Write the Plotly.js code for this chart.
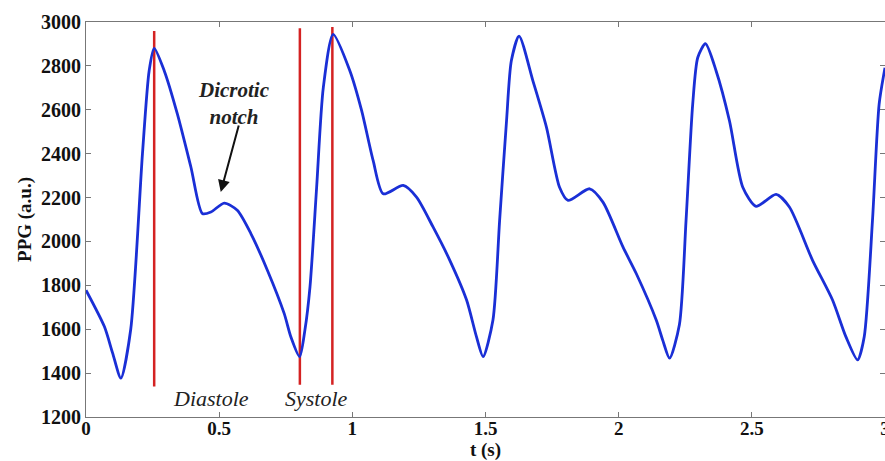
<!DOCTYPE html>
<html>
<head>
<meta charset="utf-8">
<script src="https://cdn.plot.ly/plotly-3.0.1.min.js"></script>
<style>html,body{margin:0;padding:0;background:#fff;}#chart{width:885px;height:461px;}</style>
</head>
<body>
<div id="chart"></div>
<script>
// PPG signal samples
const timeS = [0, 0.069, 0.100, 0.131, 0.168, 0.212, 0.237, 0.256, 0.294, 0.343, 0.394, 0.437, 0.469, 0.519, 0.568, 0.619, 0.681, 0.744, 0.769, 0.802,
  0.822, 0.841, 0.866, 0.891, 0.928, 0.991, 1.035, 1.078, 1.116, 1.191, 1.241, 1.303, 1.366, 1.429, 1.466, 1.491,
  1.528, 1.553, 1.579, 1.597, 1.626, 1.678, 1.729, 1.778, 1.810, 1.891, 1.941, 2.016, 2.066, 2.141, 2.166, 2.191,
  2.228, 2.253, 2.278, 2.297, 2.326, 2.366, 2.416, 2.466, 2.516, 2.591, 2.641, 2.728, 2.803, 2.853, 2.897,
  2.922, 2.953, 2.978, 3.0];
const ppg = [1778, 1612, 1491, 1377, 1600, 2400, 2777, 2880, 2777, 2581, 2338, 2127, 2134, 2175, 2142, 2036, 1869, 1672, 1566, 1475,
  1597, 1793, 2247, 2701, 2944, 2777, 2596, 2369, 2217, 2255, 2202, 2066, 1914, 1733, 1566, 1475,
  1642, 2096, 2550, 2823, 2936, 2732, 2520, 2247, 2187, 2240, 2179, 1975, 1854, 1642, 1548, 1468,
  1620, 2096, 2626, 2838, 2901, 2777, 2550, 2247, 2160, 2214, 2157, 1914, 1733, 1566, 1460,
  1566, 2096, 2626, 2792];

// Red marker lines
const markerT = [0.256, 0.803, 0.925];
const markerBottom = [1339, 1347, 1347];
const markerTop = [2959, 2971, 2977];

// Text labels
const labelText = ["Diastole", "Systole"];
const labelT = [0.470, 0.865];
const labelV = [1286, 1283];

const notchText = "Dicrotic<br>notch";
const notchT = 0.556, notchV = 2630;
const arrowTail = [0.575, 2535];
const arrowHead = [0.506, 2225];

const xTicks = [0, 0.5, 1, 1.5, 2, 2.5, 3];
const xTickText = ["0", "0.5", "1", "1.5", "2", "2.5", "3"];
const yTicks = [1200, 1400, 1600, 1800, 2000, 2200, 2400, 2600, 2800, 3000];

const traces = [];
for (let i = 0; i < markerT.length; i++) {
  traces.push({
    x: [markerT[i], markerT[i]], y: [markerBottom[i], markerTop[i]],
    mode: 'lines', line: {color: '#d42222', width: 2.5}, hoverinfo: 'skip', showlegend: false
  });
}
traces.push({
  x: timeS, y: ppg, mode: 'lines',
  line: {color: '#1a2fd6', width: 2.8, shape: 'spline', smoothing: 0.7},
  showlegend: false
});

const serif = '"Liberation Serif", "Times New Roman", serif';
const annotations = labelText.map((t, i) => ({
  x: labelT[i], y: labelV[i], text: '<i>' + t + '</i>', showarrow: false,
  font: {family: serif, size: 22, color: '#222'}, xanchor: 'center', yanchor: 'middle'
}));
annotations.push({
  x: notchT, y: notchV, text: '<b><i>' + notchText + '</i></b>', showarrow: false,
  font: {family: serif, size: 21, color: '#222'}, xanchor: 'center', yanchor: 'middle'
});
annotations.push({
  x: arrowHead[0], y: arrowHead[1], ax: arrowTail[0], ay: arrowTail[1],
  axref: 'x', ayref: 'y', text: '', showarrow: true,
  arrowhead: 2, arrowsize: 1.2, arrowwidth: 2, arrowcolor: '#111'
});

const axisCommon = {
  showline: true, linecolor: '#777', linewidth: 1, mirror: 'ticks',
  ticks: 'inside', ticklen: 5, tickcolor: '#777', showgrid: false, zeroline: false,
  ticklabeloverflow: 'allow',
  tickfont: {family: serif, size: 20, color: '#111', weight: 'bold'}
};

const layout = {
  width: 885, height: 461,
  margin: {l: 86, r: 0, t: 22, b: 44},
  paper_bgcolor: '#fff', plot_bgcolor: '#fff',
  xaxis: Object.assign({}, axisCommon, {
    range: [0, 3], tickvals: xTicks, ticktext: xTickText, ticklabelstandoff: -6,
    tickfont: {family: serif, size: 19, color: '#111', weight: 'bold'},
    title: {text: '<b>t (s)</b>', font: {family: serif, size: 19, color: '#111'}, standoff: 3}
  }),
  yaxis: Object.assign({}, axisCommon, {
    range: [1200, 3000], tickvals: yTicks,
    title: {text: '<b>PPG (a.u.)</b>', font: {family: serif, size: 19, color: '#111'}, standoff: 4}
  }),
  annotations: annotations
};

Plotly.newPlot('chart', traces, layout, {displayModeBar: false, staticPlot: true});
</script>
</body>
</html>
